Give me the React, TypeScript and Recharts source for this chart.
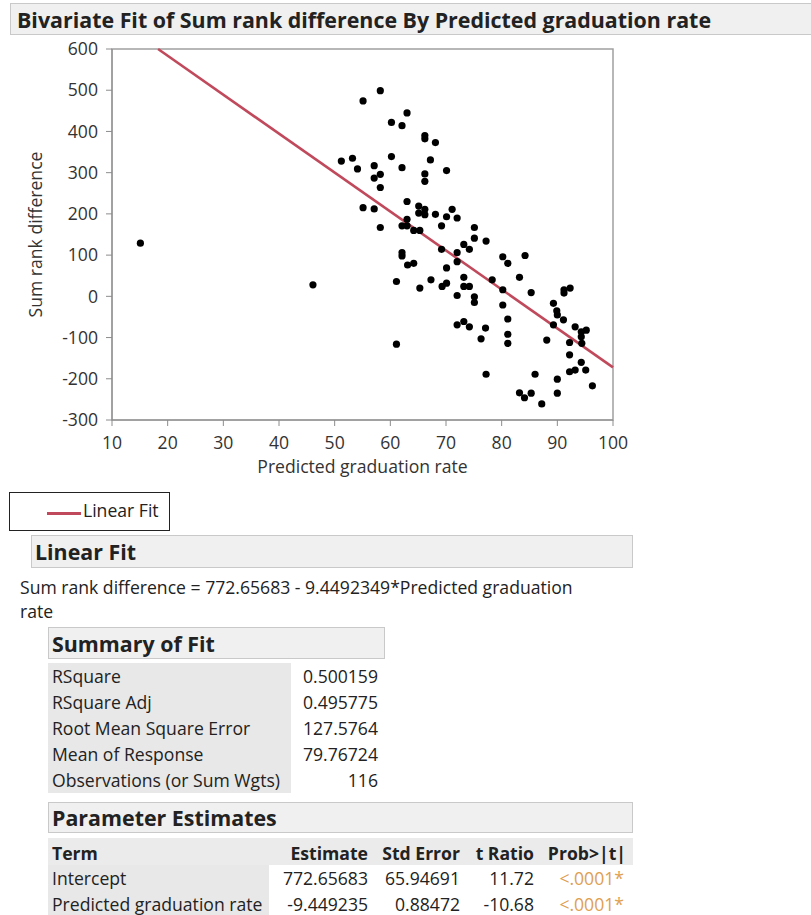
import { ScatterChart, Scatter, XAxis, YAxis, ReferenceArea } from 'recharts';

// values
const gradRate = [
    58.2, 55.1, 63.0, 60.2, 62.1, 66.2, 66.2, 68.1, 51.2, 53.2,
    60.2, 67.2, 54.1, 57.1, 62.1, 70.1, 58.2, 57.1, 66.2, 66.2,
    58.2, 63.0, 55.1, 57.1, 65.1, 66.2, 65.1, 66.2, 68.1, 71.1,
    70.1, 72.0, 58.2, 63.0, 62.1, 63.0, 64.2, 65.3, 69.2, 69.2,
    75.1, 75.1, 77.2, 73.2, 74.2, 62.1, 62.1, 63.1, 64.2, 61.1,
    65.3, 67.3, 69.3, 70.1, 70.1, 72.0, 72.0, 61.1, 73.2, 73.2,
    74.2, 72.0, 75.1, 75.1, 72.0, 73.2, 74.2, 77.1, 76.3, 77.2,
    80.2, 81.1, 84.2, 83.2, 78.3, 80.2, 80.2, 81.1, 81.1, 81.1,
    85.3, 88.1, 89.3, 89.9, 90.0, 91.1, 89.3, 91.2, 91.2, 92.3,
    93.2, 94.3, 95.2, 94.3, 92.2, 94.4, 92.2, 94.3, 92.2, 93.2,
    95.1, 96.3, 86.0, 90.0, 90.0, 83.2, 84.1, 85.3, 87.2, 15.1, 46.1,
];
const rankDiff = [
    499, 474, 445, 422, 414, 390, 382, 373, 328, 335,
    339, 331, 309, 317, 312, 305, 296, 287, 297, 279,
    264, 230, 215, 212, 219, 211, 202, 198, 199, 211,
    193, 190, 167, 187, 171, 171, 160, 160, 171, 114,
    167, 141, 134, 126, 114, 106, 98, 76, 80, 36,
    20, 40, 24, 32, 69, 106, 84, -116, 46, 24,
    24, 2, -1, -15, -69, -61, -74, -77, -103, -189,
    96, 80, 99, 46, 40, 16, -21, -55, -92, -114,
    9, -106, -17, -35, -45, -57, -69, 8, 16, 20,
    -74, -86, -82, -98, -112, -114, -142, -160, -183, -179,
    -179, -217, -189, -201, -235, -234, -246, -235, -261, 129, 28,
];

const xTicks = [10, 20, 30, 40, 50, 60, 70, 80, 90, 100];
const yTicks = [-300, -200, -100, 0, 100, 200, 300, 400, 500, 600];

const intercept = 772.65683;
const slope = -9.4492349;

const summaryLabels = ['RSquare', 'RSquare Adj', 'Root Mean Square Error', 'Mean of Response', 'Observations (or Sum Wgts)'];
const summaryValues = ['0.500159', '0.495775', '127.5764', '79.76724', '116'];

const paramHeads = ['Term', 'Estimate', 'Std Error', 't Ratio', 'Prob>|t|'];
const paramTerms = ['Intercept', 'Predicted graduation rate'];
const paramEstimates = ['772.65683', '-9.449235'];
const paramStdErr = ['65.94691', '0.88472'];
const paramT = ['11.72', '-10.68'];
const paramProb = ['<.0001*', '<.0001*'];

const FONT = '"Open Sans", sans-serif';
const TEXT = '#222';
const LINE_RED = '#c04a5c';
const BODY = 17.6;
const HEAD = 21.4;

const points = gradRate.map((x, i) => ({ x, y: rankDiff[i] }));

// fit line clipped to the frame (top edge at y=600, right edge at x=100)
const fitStart = (600 - intercept) / slope;
const fitLine = [
    { x: fitStart, y: intercept + slope * fitStart },
    { x: 100, y: intercept + slope * 100 },
];

const barStyle = {
    position: 'absolute' as const,
    background: '#f0f0f0',
    border: '1px solid #c9c9c9',
    boxSizing: 'border-box' as const,
    fontWeight: 'bold' as const,
    color: TEXT,
    display: 'flex',
    alignItems: 'center',
    whiteSpace: 'nowrap' as const,
};

function Dot(props: any) {
    return <circle cx={props.cx} cy={props.cy} r={3.6} fill="#000" />;
}

export default function App() {
    const paramRight = [368, 460, 534, 626];
    const cell = { position: 'absolute' as const, lineHeight: '26px', fontSize: BODY, whiteSpace: 'nowrap' as const };
    return (
        <div style={{ position: 'absolute', left: 0, top: 0, width: 811, height: 915, background: '#fff', fontFamily: FONT, color: TEXT, overflow: 'hidden' }}>
            {/* title bar */}
            <div style={{ ...barStyle, left: 10, top: 3, width: 810, height: 32, fontSize: HEAD, paddingLeft: 6 }}>
                Bivariate Fit of Sum rank difference By Predicted graduation rate
            </div>

            <div style={{ position: 'absolute', left: 0, top: 0 }}>
                <ScatterChart width={640} height={490} margin={{ top: 49, right: 27, bottom: 10, left: 14 }}>
                    <XAxis
                        type="number"
                        dataKey="x"
                        domain={[10, 100]}
                        ticks={xTicks}
                        height={60}
                        stroke="#8c8c8c"
                        tickSize={6}
                        tickMargin={11}
                        tick={{ fill: '#333', fontSize: BODY, fontFamily: FONT }}
                        label={{ value: 'Predicted graduation rate', position: 'insideBottom', offset: 7, fill: '#333', fontSize: BODY, fontFamily: FONT }}
                    />
                    <YAxis
                        type="number"
                        dataKey="y"
                        domain={[-300, 600]}
                        ticks={yTicks}
                        width={98}
                        stroke="#8c8c8c"
                        tickSize={6}
                        tickMargin={8}
                        tick={{ fill: '#333', fontSize: BODY, fontFamily: FONT }}
                        label={{ value: 'Sum rank difference', angle: -90, position: 'insideLeft', offset: 22, fill: '#333', fontSize: BODY, fontFamily: FONT, style: { textAnchor: 'middle' } }}
                    />
                    <ReferenceArea x1={10} x2={100} y1={-300} y2={600} fill="#fff" fillOpacity={0} stroke="#a0a0a0" strokeWidth={1.5} />
                    <Scatter data={fitLine} line={{ stroke: LINE_RED, strokeWidth: 2.6 }} shape={() => <g />} isAnimationActive={false} />
                    <Scatter data={points} shape={Dot} isAnimationActive={false} />
                </ScatterChart>
            </div>

            {/* legend */}
            <div style={{ position: 'absolute', left: 9, top: 492, width: 161, height: 39, border: '1px solid #222', boxSizing: 'border-box' }}>
                <div style={{ position: 'absolute', left: 37, top: 19, width: 34, height: 3, background: LINE_RED }} />
                <div style={{ position: 'absolute', left: 73, top: 5, fontSize: BODY, whiteSpace: 'nowrap' }}>Linear Fit</div>
            </div>

            {/* linear fit report */}
            <div style={{ ...barStyle, left: 31, top: 535, width: 602, height: 33, fontSize: HEAD, paddingLeft: 3 }}>Linear Fit</div>
            <div style={{ position: 'absolute', left: 20, top: 575, fontSize: BODY, lineHeight: '24px', width: 600 }}>
                Sum rank difference = 772.65683 - 9.4492349*Predicted graduation<br />rate
            </div>

            <div style={{ ...barStyle, left: 48, top: 627, width: 337, height: 32, fontSize: HEAD, paddingLeft: 3 }}>Summary of Fit</div>
            <div style={{ position: 'absolute', left: 48, top: 663, width: 243, height: 130, background: '#e8e8e8' }} />
            {summaryLabels.map((lab, i) => (
                <div key={lab} style={{ ...cell, left: 52, top: 663 + i * 26 }}>{lab}</div>
            ))}
            {summaryValues.map((v, i) => (
                <div key={i} style={{ ...cell, right: 811 - 378, top: 663 + i * 26 }}>{v}</div>
            ))}

            <div style={{ ...barStyle, left: 48, top: 802, width: 585, height: 31, fontSize: HEAD, paddingLeft: 3 }}>Parameter Estimates</div>
            <div style={{ position: 'absolute', left: 48, top: 838, width: 585, height: 27, background: '#ebebeb' }} />
            <div style={{ position: 'absolute', left: 48, top: 865, width: 221, height: 52, background: '#e8e8e8' }} />
            <div style={{ ...cell, left: 52, top: 840, fontWeight: 'bold' }}>{paramHeads[0]}</div>
            {paramHeads.slice(1).map((h, i) => (
                <div key={h} style={{ ...cell, right: 811 - paramRight[i], top: 840, fontWeight: 'bold' }}>{h}</div>
            ))}
            {paramTerms.map((t, r) => {
                const cols = [paramEstimates[r], paramStdErr[r], paramT[r], paramProb[r]];
                return (
                    <div key={t}>
                        <div style={{ ...cell, left: 52, top: 865 + r * 26 }}>{t}</div>
                        {cols.map((c, i) => (
                            <div key={i} style={{ ...cell, right: 811 - (i === 3 ? 624 : paramRight[i]), top: 865 + r * 26, color: i === 3 ? '#e0a050' : TEXT }}>
                                {c}
                            </div>
                        ))}
                    </div>
                );
            })}
        </div>
    );
}
